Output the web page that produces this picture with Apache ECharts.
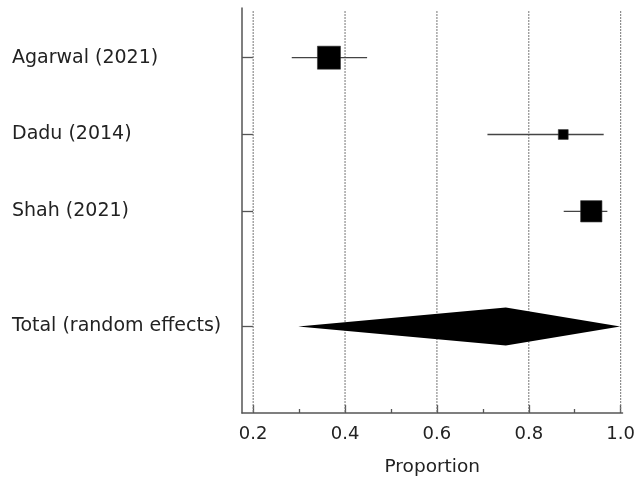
<!DOCTYPE html>
<html>
<head>
<meta charset="utf-8">
<script src="https://cdn.jsdelivr.net/npm/echarts@6/dist/echarts.min.js"></script>
<style>html,body{margin:0;padding:0;background:#fff}#c{width:638px;height:483px}</style>
</head>
<body>
<div id="c"></div>
<script>
const studies = ['Agarwal (2021)', 'Dadu (2014)', 'Shah (2021)'];
const estimates = [0.365, 0.875, 0.936];
const lower = [0.284, 0.710, 0.876];
const upper = [0.448, 0.963, 0.971];
const weights = [49, 9, 42];
const totalLabel = 'Total (random effects)';
const totalEst = 0.750;
const totalLower = 0.298;
const totalUpper = 0.999;
const xTicks = [0.2, 0.4, 0.6, 0.8, 1.0];
const xMinorTicks = [0.3, 0.5, 0.7, 0.9];

const rowPos = [1, 2, 3];
const totalPos = 4.5;
const X_MIN = 0.1757, X_MAX = 1.004;
const Y_MIN = 0.353, Y_MAX = 5.626;
const allLabels = studies.concat([totalLabel]);
const allPos = rowPos.concat([totalPos]);

const chart = echarts.init(document.getElementById('c'));
const FONT = 'DejaVu Sans';

const studyData = studies.map((s, i) => [estimates[i], rowPos[i], lower[i], upper[i], weights[i]]);

chart.setOption({
  animation: false,
  grid: { left: 242, right: 15, top: 8, bottom: 70 },
  xAxis: [{
    type: 'value', min: X_MIN, max: X_MAX, position: 'bottom',
    name: 'Proportion', nameLocation: 'middle', nameGap: 45,
    nameTextStyle: { fontFamily: FONT, fontSize: 18.5, color: '#222' },
    axisLine: { show: true, onZero: false, lineStyle: { color: '#555', width: 1.5 } },
    axisTick: { show: true, inside: true, length: 8, customValues: xTicks, lineStyle: { color: '#555', width: 1.3 } },
    axisLabel: { show: true, customValues: xTicks, margin: 12, formatter: v => Number(v).toFixed(1),
      fontFamily: FONT, fontSize: 18, color: '#222' },
    splitLine: { show: false }
  }, {
    type: 'value', min: X_MIN, max: X_MAX, position: 'bottom',
    axisLine: { show: false },
    axisTick: { show: true, inside: true, length: 4, customValues: xMinorTicks, lineStyle: { color: '#555', width: 1.3 } },
    axisLabel: { show: false },
    splitLine: { show: false }
  }],
  yAxis: {
    type: 'value', min: Y_MIN, max: Y_MAX, inverse: true,
    axisLine: { show: true, onZero: false, lineStyle: { color: '#555', width: 1.5 } },
    axisTick: { show: true, inside: true, length: 11, customValues: allPos, lineStyle: { color: '#555', width: 1.3 } },
    axisLabel: { show: true, customValues: allPos, align: 'left', margin: 230,
      formatter: v => { const k = allPos.findIndex(p => Math.abs(p - v) < 1e-6); return k >= 0 ? allLabels[k] : ''; },
      fontFamily: FONT, fontSize: 19, color: '#222' },
    splitLine: { show: false }
  },
  series: [{
    type: 'custom',
    silent: true,
    data: xTicks.map(t => [t]),
    z: 1,
    renderItem: (params, api) => {
      const x = api.value(0);
      const p1 = api.coord([x, Y_MIN]);
      const p2 = api.coord([x, Y_MAX]);
      return { type: 'line', shape: { x1: p1[0], y1: p1[1] + 3, x2: p2[0], y2: p2[1] },
        style: { stroke: '#777', lineWidth: 1, lineDash: [2, 1] } };
    }
  }, {
    type: 'custom',
    silent: true,
    data: studyData,
    z: 3,
    renderItem: (params, api) => {
      const y = api.value(1);
      const c = api.coord([api.value(0), y]);
      const l = api.coord([api.value(2), y]);
      const h = api.coord([api.value(3), y]);
      const s = 3.29 * Math.sqrt(api.value(4));
      return { type: 'group', children: [
        { type: 'line', shape: { x1: l[0], y1: l[1], x2: h[0], y2: h[1] }, style: { stroke: '#444', lineWidth: 1.3 } },
        { type: 'rect', shape: { x: c[0] - s / 2, y: c[1] - s / 2, width: s, height: s }, style: { fill: '#000', stroke: '#333', lineWidth: 0.6 } }
      ]};
    }
  }, {
    type: 'custom',
    silent: true,
    data: [[totalEst, totalPos, totalLower, totalUpper]],
    z: 3,
    renderItem: (params, api) => {
      const y = api.value(1);
      const c = api.coord([api.value(0), y]);
      const l = api.coord([api.value(2), y]);
      const h = api.coord([api.value(3), y]);
      const hh = 19;
      return { type: 'polygon', shape: { points: [[l[0], l[1]], [c[0], c[1] - hh], [h[0], h[1]], [c[0], c[1] + hh]] },
        style: { fill: '#000' } };
    }
  }]
});
</script>
</body>
</html>
